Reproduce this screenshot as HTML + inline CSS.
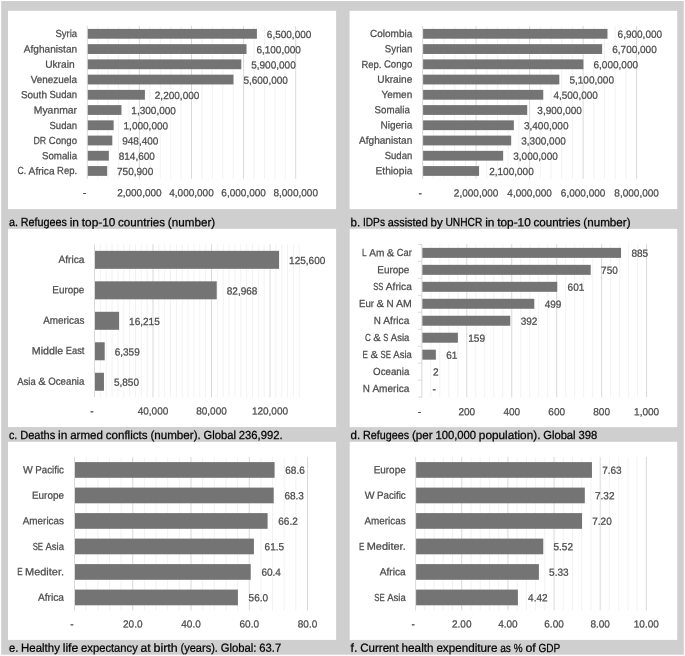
<!DOCTYPE html>
<html><head><meta charset="utf-8"><title>Charts</title>
<style>
html,body{margin:0;padding:0;background:#fff;}
svg{display:block;will-change:transform;}
text{font-family:"Liberation Sans",sans-serif;stroke-width:0.25px;paint-order:stroke;}
</style></head><body>
<svg width="685" height="656" viewBox="0 0 685 656">
<rect x="0.00" y="0.00" width="685.00" height="656.00" fill="#ffffff"/>
<rect x="1.15" y="1.00" width="682.65" height="653.70" fill="#cfcfcf"/>
<rect x="8.00" y="10.80" width="328.10" height="198.30" fill="#ffffff"/>
<line x1="87.30" y1="25.90" x2="87.30" y2="178.90" stroke="#d9d9d9" stroke-width="1"/>
<line x1="97.72" y1="25.90" x2="97.72" y2="178.90" stroke="#f2f2f2" stroke-width="1"/>
<line x1="108.14" y1="25.90" x2="108.14" y2="178.90" stroke="#f2f2f2" stroke-width="1"/>
<line x1="118.56" y1="25.90" x2="118.56" y2="178.90" stroke="#f2f2f2" stroke-width="1"/>
<line x1="128.98" y1="25.90" x2="128.98" y2="178.90" stroke="#f2f2f2" stroke-width="1"/>
<line x1="139.40" y1="25.90" x2="139.40" y2="178.90" stroke="#d9d9d9" stroke-width="1"/>
<line x1="149.82" y1="25.90" x2="149.82" y2="178.90" stroke="#f2f2f2" stroke-width="1"/>
<line x1="160.24" y1="25.90" x2="160.24" y2="178.90" stroke="#f2f2f2" stroke-width="1"/>
<line x1="170.66" y1="25.90" x2="170.66" y2="178.90" stroke="#f2f2f2" stroke-width="1"/>
<line x1="181.08" y1="25.90" x2="181.08" y2="178.90" stroke="#f2f2f2" stroke-width="1"/>
<line x1="191.50" y1="25.90" x2="191.50" y2="178.90" stroke="#d9d9d9" stroke-width="1"/>
<line x1="201.92" y1="25.90" x2="201.92" y2="178.90" stroke="#f2f2f2" stroke-width="1"/>
<line x1="212.34" y1="25.90" x2="212.34" y2="178.90" stroke="#f2f2f2" stroke-width="1"/>
<line x1="222.76" y1="25.90" x2="222.76" y2="178.90" stroke="#f2f2f2" stroke-width="1"/>
<line x1="233.18" y1="25.90" x2="233.18" y2="178.90" stroke="#f2f2f2" stroke-width="1"/>
<line x1="243.60" y1="25.90" x2="243.60" y2="178.90" stroke="#d9d9d9" stroke-width="1"/>
<line x1="254.02" y1="25.90" x2="254.02" y2="178.90" stroke="#f2f2f2" stroke-width="1"/>
<line x1="264.44" y1="25.90" x2="264.44" y2="178.90" stroke="#f2f2f2" stroke-width="1"/>
<line x1="274.86" y1="25.90" x2="274.86" y2="178.90" stroke="#f2f2f2" stroke-width="1"/>
<line x1="285.28" y1="25.90" x2="285.28" y2="178.90" stroke="#f2f2f2" stroke-width="1"/>
<line x1="295.70" y1="25.90" x2="295.70" y2="178.90" stroke="#d9d9d9" stroke-width="1"/>
<rect x="87.80" y="28.92" width="169.12" height="9.80" fill="#747474"/>
<text x="55.44" y="37.32" font-size="10.3" fill="#4a4a4a" stroke="#4a4a4a" textLength="21.66" lengthAdjust="spacingAndGlyphs" transform="rotate(0.03 55.44 37.32)">Syria</text>
<text x="266.82" y="37.92" font-size="10.3" fill="#4a4a4a" stroke="#4a4a4a" textLength="44.54" lengthAdjust="spacingAndGlyphs" transform="rotate(0.03 266.82 37.92)">6,500,000</text>
<rect x="87.80" y="44.16" width="158.71" height="9.80" fill="#747474"/>
<text x="23.83" y="52.56" font-size="10.3" fill="#4a4a4a" stroke="#4a4a4a" textLength="53.27" lengthAdjust="spacingAndGlyphs" transform="rotate(0.03 23.83 52.56)">Afghanistan</text>
<text x="256.40" y="53.16" font-size="10.3" fill="#4a4a4a" stroke="#4a4a4a" textLength="44.54" lengthAdjust="spacingAndGlyphs" transform="rotate(0.03 256.40 53.16)">6,100,000</text>
<rect x="87.80" y="59.40" width="153.50" height="9.80" fill="#747474"/>
<text x="45.14" y="67.80" font-size="10.3" fill="#4a4a4a" stroke="#4a4a4a" textLength="29.47" lengthAdjust="spacingAndGlyphs" transform="rotate(0.03 45.14 67.80)">Ukrain</text>
<text x="251.19" y="68.40" font-size="10.3" fill="#4a4a4a" stroke="#4a4a4a" textLength="44.54" lengthAdjust="spacingAndGlyphs" transform="rotate(0.03 251.19 68.40)">5,900,000</text>
<rect x="87.80" y="74.64" width="145.68" height="9.80" fill="#747474"/>
<text x="30.75" y="83.04" font-size="10.3" fill="#4a4a4a" stroke="#4a4a4a" textLength="46.35" lengthAdjust="spacingAndGlyphs" transform="rotate(0.03 30.75 83.04)">Venezuela</text>
<text x="243.38" y="83.64" font-size="10.3" fill="#4a4a4a" stroke="#4a4a4a" textLength="44.54" lengthAdjust="spacingAndGlyphs" transform="rotate(0.03 243.38 83.64)">5,600,000</text>
<rect x="87.80" y="89.88" width="57.11" height="9.80" fill="#747474"/>
<text x="20.89" y="98.28" font-size="10.3" fill="#4a4a4a" stroke="#4a4a4a" textLength="26.08" lengthAdjust="spacingAndGlyphs" transform="rotate(0.03 20.89 98.28)">South</text>
<text x="49.46" y="98.28" font-size="10.3" fill="#4a4a4a" stroke="#4a4a4a" textLength="27.64" lengthAdjust="spacingAndGlyphs" transform="rotate(0.03 49.46 98.28)">Sudan</text>
<text x="154.81" y="98.88" font-size="10.3" fill="#4a4a4a" stroke="#4a4a4a" textLength="44.54" lengthAdjust="spacingAndGlyphs" transform="rotate(0.03 154.81 98.88)">2,200,000</text>
<rect x="87.80" y="105.12" width="33.66" height="9.80" fill="#747474"/>
<text x="33.77" y="113.52" font-size="10.3" fill="#4a4a4a" stroke="#4a4a4a" textLength="43.33" lengthAdjust="spacingAndGlyphs" transform="rotate(0.03 33.77 113.52)">Myanmar</text>
<text x="131.36" y="114.12" font-size="10.3" fill="#4a4a4a" stroke="#4a4a4a" textLength="44.54" lengthAdjust="spacingAndGlyphs" transform="rotate(0.03 131.36 114.12)">1,300,000</text>
<rect x="87.80" y="120.36" width="25.85" height="9.80" fill="#747474"/>
<text x="49.46" y="128.76" font-size="10.3" fill="#4a4a4a" stroke="#4a4a4a" textLength="27.64" lengthAdjust="spacingAndGlyphs" transform="rotate(0.03 49.46 128.76)">Sudan</text>
<text x="123.55" y="129.36" font-size="10.3" fill="#4a4a4a" stroke="#4a4a4a" textLength="44.54" lengthAdjust="spacingAndGlyphs" transform="rotate(0.03 123.55 129.36)">1,000,000</text>
<rect x="87.80" y="135.60" width="24.51" height="9.80" fill="#747474"/>
<text x="33.46" y="144.00" font-size="10.3" fill="#4a4a4a" stroke="#4a4a4a" textLength="12.74" lengthAdjust="spacingAndGlyphs" transform="rotate(0.03 33.46 144.00)">DR</text>
<text x="48.69" y="144.00" font-size="10.3" fill="#4a4a4a" stroke="#4a4a4a" textLength="28.41" lengthAdjust="spacingAndGlyphs" transform="rotate(0.03 48.69 144.00)">Congo</text>
<text x="122.21" y="144.60" font-size="10.3" fill="#4a4a4a" stroke="#4a4a4a" textLength="36.21" lengthAdjust="spacingAndGlyphs" transform="rotate(0.03 122.21 144.60)">948,400</text>
<rect x="87.80" y="150.84" width="21.02" height="9.80" fill="#747474"/>
<text x="41.89" y="159.24" font-size="10.3" fill="#4a4a4a" stroke="#4a4a4a" textLength="35.21" lengthAdjust="spacingAndGlyphs" transform="rotate(0.03 41.89 159.24)">Somalia</text>
<text x="118.72" y="159.84" font-size="10.3" fill="#4a4a4a" stroke="#4a4a4a" textLength="36.21" lengthAdjust="spacingAndGlyphs" transform="rotate(0.03 118.72 159.84)">814,600</text>
<rect x="87.80" y="166.08" width="19.36" height="9.80" fill="#747474"/>
<text x="17.49" y="174.48" font-size="10.3" fill="#4a4a4a" stroke="#4a4a4a" textLength="8.63" lengthAdjust="spacingAndGlyphs" transform="rotate(0.03 17.49 174.48)">C.</text>
<text x="28.61" y="174.48" font-size="10.3" fill="#4a4a4a" stroke="#4a4a4a" textLength="26.00" lengthAdjust="spacingAndGlyphs" transform="rotate(0.03 28.61 174.48)">Africa</text>
<text x="57.10" y="174.48" font-size="10.3" fill="#4a4a4a" stroke="#4a4a4a" textLength="20.00" lengthAdjust="spacingAndGlyphs" transform="rotate(0.03 57.10 174.48)">Rep.</text>
<text x="117.06" y="175.08" font-size="10.3" fill="#4a4a4a" stroke="#4a4a4a" textLength="36.21" lengthAdjust="spacingAndGlyphs" transform="rotate(0.03 117.06 175.08)">750,900</text>
<text x="83.12" y="196.25" font-size="10.3" fill="#4a4a4a" stroke="#4a4a4a" textLength="3.37" lengthAdjust="spacingAndGlyphs" transform="rotate(0.03 83.12 196.25)">-</text>
<text x="117.13" y="196.25" font-size="10.3" fill="#4a4a4a" stroke="#4a4a4a" textLength="44.54" lengthAdjust="spacingAndGlyphs" transform="rotate(0.03 117.13 196.25)">2,000,000</text>
<text x="169.23" y="196.25" font-size="10.3" fill="#4a4a4a" stroke="#4a4a4a" textLength="44.54" lengthAdjust="spacingAndGlyphs" transform="rotate(0.03 169.23 196.25)">4,000,000</text>
<text x="221.33" y="196.25" font-size="10.3" fill="#4a4a4a" stroke="#4a4a4a" textLength="44.54" lengthAdjust="spacingAndGlyphs" transform="rotate(0.03 221.33 196.25)">6,000,000</text>
<text x="273.43" y="196.25" font-size="10.3" fill="#4a4a4a" stroke="#4a4a4a" textLength="44.54" lengthAdjust="spacingAndGlyphs" transform="rotate(0.03 273.43 196.25)">8,000,000</text>
<rect x="349.60" y="10.80" width="327.60" height="198.30" fill="#ffffff"/>
<line x1="422.60" y1="25.90" x2="422.60" y2="178.90" stroke="#d9d9d9" stroke-width="1"/>
<line x1="433.30" y1="25.90" x2="433.30" y2="178.90" stroke="#f2f2f2" stroke-width="1"/>
<line x1="444.00" y1="25.90" x2="444.00" y2="178.90" stroke="#f2f2f2" stroke-width="1"/>
<line x1="454.70" y1="25.90" x2="454.70" y2="178.90" stroke="#f2f2f2" stroke-width="1"/>
<line x1="465.40" y1="25.90" x2="465.40" y2="178.90" stroke="#f2f2f2" stroke-width="1"/>
<line x1="476.10" y1="25.90" x2="476.10" y2="178.90" stroke="#d9d9d9" stroke-width="1"/>
<line x1="486.80" y1="25.90" x2="486.80" y2="178.90" stroke="#f2f2f2" stroke-width="1"/>
<line x1="497.50" y1="25.90" x2="497.50" y2="178.90" stroke="#f2f2f2" stroke-width="1"/>
<line x1="508.20" y1="25.90" x2="508.20" y2="178.90" stroke="#f2f2f2" stroke-width="1"/>
<line x1="518.90" y1="25.90" x2="518.90" y2="178.90" stroke="#f2f2f2" stroke-width="1"/>
<line x1="529.60" y1="25.90" x2="529.60" y2="178.90" stroke="#d9d9d9" stroke-width="1"/>
<line x1="540.30" y1="25.90" x2="540.30" y2="178.90" stroke="#f2f2f2" stroke-width="1"/>
<line x1="551.00" y1="25.90" x2="551.00" y2="178.90" stroke="#f2f2f2" stroke-width="1"/>
<line x1="561.70" y1="25.90" x2="561.70" y2="178.90" stroke="#f2f2f2" stroke-width="1"/>
<line x1="572.40" y1="25.90" x2="572.40" y2="178.90" stroke="#f2f2f2" stroke-width="1"/>
<line x1="583.10" y1="25.90" x2="583.10" y2="178.90" stroke="#d9d9d9" stroke-width="1"/>
<line x1="593.80" y1="25.90" x2="593.80" y2="178.90" stroke="#f2f2f2" stroke-width="1"/>
<line x1="604.50" y1="25.90" x2="604.50" y2="178.90" stroke="#f2f2f2" stroke-width="1"/>
<line x1="615.20" y1="25.90" x2="615.20" y2="178.90" stroke="#f2f2f2" stroke-width="1"/>
<line x1="625.90" y1="25.90" x2="625.90" y2="178.90" stroke="#f2f2f2" stroke-width="1"/>
<line x1="636.60" y1="25.90" x2="636.60" y2="178.90" stroke="#d9d9d9" stroke-width="1"/>
<rect x="423.10" y="28.92" width="184.38" height="9.80" fill="#747474"/>
<text x="369.97" y="37.12" font-size="10.3" fill="#4a4a4a" stroke="#4a4a4a" textLength="42.33" lengthAdjust="spacingAndGlyphs" transform="rotate(0.03 369.97 37.12)">Colombia</text>
<text x="617.57" y="37.77" font-size="10.3" fill="#4a4a4a" stroke="#4a4a4a" textLength="44.54" lengthAdjust="spacingAndGlyphs" transform="rotate(0.03 617.57 37.77)">6,900,000</text>
<rect x="423.10" y="44.16" width="179.03" height="9.80" fill="#747474"/>
<text x="384.87" y="52.36" font-size="10.3" fill="#4a4a4a" stroke="#4a4a4a" textLength="27.43" lengthAdjust="spacingAndGlyphs" transform="rotate(0.03 384.87 52.36)">Syrian</text>
<text x="612.23" y="53.01" font-size="10.3" fill="#4a4a4a" stroke="#4a4a4a" textLength="44.54" lengthAdjust="spacingAndGlyphs" transform="rotate(0.03 612.23 53.01)">6,700,000</text>
<rect x="423.10" y="59.40" width="160.30" height="9.80" fill="#747474"/>
<text x="361.40" y="67.60" font-size="10.3" fill="#4a4a4a" stroke="#4a4a4a" textLength="20.00" lengthAdjust="spacingAndGlyphs" transform="rotate(0.03 361.40 67.60)">Rep.</text>
<text x="383.89" y="67.60" font-size="10.3" fill="#4a4a4a" stroke="#4a4a4a" textLength="28.41" lengthAdjust="spacingAndGlyphs" transform="rotate(0.03 383.89 67.60)">Congo</text>
<text x="593.50" y="68.25" font-size="10.3" fill="#4a4a4a" stroke="#4a4a4a" textLength="44.54" lengthAdjust="spacingAndGlyphs" transform="rotate(0.03 593.50 68.25)">6,000,000</text>
<rect x="423.10" y="74.64" width="136.23" height="9.80" fill="#747474"/>
<text x="377.35" y="82.84" font-size="10.3" fill="#4a4a4a" stroke="#4a4a4a" textLength="34.95" lengthAdjust="spacingAndGlyphs" transform="rotate(0.03 377.35 82.84)">Ukraine</text>
<text x="569.43" y="83.49" font-size="10.3" fill="#4a4a4a" stroke="#4a4a4a" textLength="44.54" lengthAdjust="spacingAndGlyphs" transform="rotate(0.03 569.43 83.49)">5,100,000</text>
<rect x="423.10" y="89.88" width="120.17" height="9.80" fill="#747474"/>
<text x="381.42" y="98.08" font-size="10.3" fill="#4a4a4a" stroke="#4a4a4a" textLength="30.88" lengthAdjust="spacingAndGlyphs" transform="rotate(0.03 381.42 98.08)">Yemen</text>
<text x="553.38" y="98.73" font-size="10.3" fill="#4a4a4a" stroke="#4a4a4a" textLength="44.54" lengthAdjust="spacingAndGlyphs" transform="rotate(0.03 553.38 98.73)">4,500,000</text>
<rect x="423.10" y="105.12" width="104.12" height="9.80" fill="#747474"/>
<text x="374.60" y="113.32" font-size="10.3" fill="#4a4a4a" stroke="#4a4a4a" textLength="35.21" lengthAdjust="spacingAndGlyphs" transform="rotate(0.03 374.60 113.32)">Somalia</text>
<text x="537.33" y="113.97" font-size="10.3" fill="#4a4a4a" stroke="#4a4a4a" textLength="44.54" lengthAdjust="spacingAndGlyphs" transform="rotate(0.03 537.33 113.97)">3,900,000</text>
<rect x="423.10" y="120.36" width="90.75" height="9.80" fill="#747474"/>
<text x="380.39" y="128.56" font-size="10.3" fill="#4a4a4a" stroke="#4a4a4a" textLength="31.91" lengthAdjust="spacingAndGlyphs" transform="rotate(0.03 380.39 128.56)">Nigeria</text>
<text x="523.95" y="129.21" font-size="10.3" fill="#4a4a4a" stroke="#4a4a4a" textLength="44.54" lengthAdjust="spacingAndGlyphs" transform="rotate(0.03 523.95 129.21)">3,400,000</text>
<rect x="423.10" y="135.60" width="88.08" height="9.80" fill="#747474"/>
<text x="359.03" y="143.80" font-size="10.3" fill="#4a4a4a" stroke="#4a4a4a" textLength="53.27" lengthAdjust="spacingAndGlyphs" transform="rotate(0.03 359.03 143.80)">Afghanistan</text>
<text x="521.27" y="144.45" font-size="10.3" fill="#4a4a4a" stroke="#4a4a4a" textLength="44.54" lengthAdjust="spacingAndGlyphs" transform="rotate(0.03 521.27 144.45)">3,300,000</text>
<rect x="423.10" y="150.84" width="80.05" height="9.80" fill="#747474"/>
<text x="384.66" y="159.04" font-size="10.3" fill="#4a4a4a" stroke="#4a4a4a" textLength="27.64" lengthAdjust="spacingAndGlyphs" transform="rotate(0.03 384.66 159.04)">Sudan</text>
<text x="513.25" y="159.69" font-size="10.3" fill="#4a4a4a" stroke="#4a4a4a" textLength="44.54" lengthAdjust="spacingAndGlyphs" transform="rotate(0.03 513.25 159.69)">3,000,000</text>
<rect x="423.10" y="166.08" width="55.97" height="9.80" fill="#747474"/>
<text x="375.59" y="174.28" font-size="10.3" fill="#4a4a4a" stroke="#4a4a4a" textLength="36.71" lengthAdjust="spacingAndGlyphs" transform="rotate(0.03 375.59 174.28)">Ethiopia</text>
<text x="489.18" y="174.93" font-size="10.3" fill="#4a4a4a" stroke="#4a4a4a" textLength="44.54" lengthAdjust="spacingAndGlyphs" transform="rotate(0.03 489.18 174.93)">2,100,000</text>
<text x="418.42" y="196.40" font-size="10.3" fill="#4a4a4a" stroke="#4a4a4a" textLength="3.37" lengthAdjust="spacingAndGlyphs" transform="rotate(0.03 418.42 196.40)">-</text>
<text x="453.83" y="196.40" font-size="10.3" fill="#4a4a4a" stroke="#4a4a4a" textLength="44.54" lengthAdjust="spacingAndGlyphs" transform="rotate(0.03 453.83 196.40)">2,000,000</text>
<text x="507.33" y="196.40" font-size="10.3" fill="#4a4a4a" stroke="#4a4a4a" textLength="44.54" lengthAdjust="spacingAndGlyphs" transform="rotate(0.03 507.33 196.40)">4,000,000</text>
<text x="560.83" y="196.40" font-size="10.3" fill="#4a4a4a" stroke="#4a4a4a" textLength="44.54" lengthAdjust="spacingAndGlyphs" transform="rotate(0.03 560.83 196.40)">6,000,000</text>
<text x="614.33" y="196.40" font-size="10.3" fill="#4a4a4a" stroke="#4a4a4a" textLength="44.54" lengthAdjust="spacingAndGlyphs" transform="rotate(0.03 614.33 196.40)">8,000,000</text>
<rect x="8.00" y="228.85" width="328.10" height="198.20" fill="#ffffff"/>
<line x1="94.50" y1="244.30" x2="94.50" y2="397.30" stroke="#d9d9d9" stroke-width="1"/>
<line x1="100.35" y1="244.30" x2="100.35" y2="397.30" stroke="#f2f2f2" stroke-width="1"/>
<line x1="106.20" y1="244.30" x2="106.20" y2="397.30" stroke="#f2f2f2" stroke-width="1"/>
<line x1="112.05" y1="244.30" x2="112.05" y2="397.30" stroke="#f2f2f2" stroke-width="1"/>
<line x1="117.90" y1="244.30" x2="117.90" y2="397.30" stroke="#f2f2f2" stroke-width="1"/>
<line x1="123.75" y1="244.30" x2="123.75" y2="397.30" stroke="#f2f2f2" stroke-width="1"/>
<line x1="129.60" y1="244.30" x2="129.60" y2="397.30" stroke="#f2f2f2" stroke-width="1"/>
<line x1="135.45" y1="244.30" x2="135.45" y2="397.30" stroke="#f2f2f2" stroke-width="1"/>
<line x1="141.30" y1="244.30" x2="141.30" y2="397.30" stroke="#f2f2f2" stroke-width="1"/>
<line x1="147.15" y1="244.30" x2="147.15" y2="397.30" stroke="#f2f2f2" stroke-width="1"/>
<line x1="153.00" y1="244.30" x2="153.00" y2="397.30" stroke="#d9d9d9" stroke-width="1"/>
<line x1="158.85" y1="244.30" x2="158.85" y2="397.30" stroke="#f2f2f2" stroke-width="1"/>
<line x1="164.70" y1="244.30" x2="164.70" y2="397.30" stroke="#f2f2f2" stroke-width="1"/>
<line x1="170.55" y1="244.30" x2="170.55" y2="397.30" stroke="#f2f2f2" stroke-width="1"/>
<line x1="176.40" y1="244.30" x2="176.40" y2="397.30" stroke="#f2f2f2" stroke-width="1"/>
<line x1="182.25" y1="244.30" x2="182.25" y2="397.30" stroke="#f2f2f2" stroke-width="1"/>
<line x1="188.10" y1="244.30" x2="188.10" y2="397.30" stroke="#f2f2f2" stroke-width="1"/>
<line x1="193.95" y1="244.30" x2="193.95" y2="397.30" stroke="#f2f2f2" stroke-width="1"/>
<line x1="199.80" y1="244.30" x2="199.80" y2="397.30" stroke="#f2f2f2" stroke-width="1"/>
<line x1="205.65" y1="244.30" x2="205.65" y2="397.30" stroke="#f2f2f2" stroke-width="1"/>
<line x1="211.50" y1="244.30" x2="211.50" y2="397.30" stroke="#d9d9d9" stroke-width="1"/>
<line x1="217.35" y1="244.30" x2="217.35" y2="397.30" stroke="#f2f2f2" stroke-width="1"/>
<line x1="223.20" y1="244.30" x2="223.20" y2="397.30" stroke="#f2f2f2" stroke-width="1"/>
<line x1="229.05" y1="244.30" x2="229.05" y2="397.30" stroke="#f2f2f2" stroke-width="1"/>
<line x1="234.90" y1="244.30" x2="234.90" y2="397.30" stroke="#f2f2f2" stroke-width="1"/>
<line x1="240.75" y1="244.30" x2="240.75" y2="397.30" stroke="#f2f2f2" stroke-width="1"/>
<line x1="246.60" y1="244.30" x2="246.60" y2="397.30" stroke="#f2f2f2" stroke-width="1"/>
<line x1="252.45" y1="244.30" x2="252.45" y2="397.30" stroke="#f2f2f2" stroke-width="1"/>
<line x1="258.30" y1="244.30" x2="258.30" y2="397.30" stroke="#f2f2f2" stroke-width="1"/>
<line x1="264.15" y1="244.30" x2="264.15" y2="397.30" stroke="#f2f2f2" stroke-width="1"/>
<line x1="270.00" y1="244.30" x2="270.00" y2="397.30" stroke="#d9d9d9" stroke-width="1"/>
<line x1="275.85" y1="244.30" x2="275.85" y2="397.30" stroke="#f2f2f2" stroke-width="1"/>
<line x1="281.70" y1="244.30" x2="281.70" y2="397.30" stroke="#f2f2f2" stroke-width="1"/>
<line x1="287.55" y1="244.30" x2="287.55" y2="397.30" stroke="#f2f2f2" stroke-width="1"/>
<line x1="293.40" y1="244.30" x2="293.40" y2="397.30" stroke="#f2f2f2" stroke-width="1"/>
<line x1="299.25" y1="244.30" x2="299.25" y2="397.30" stroke="#f2f2f2" stroke-width="1"/>
<rect x="95.00" y="250.84" width="184.09" height="18.00" fill="#747474"/>
<text x="58.40" y="262.89" font-size="10.3" fill="#4a4a4a" stroke="#4a4a4a" textLength="26.00" lengthAdjust="spacingAndGlyphs" transform="rotate(0.03 58.40 262.89)">Africa</text>
<text x="289.09" y="263.94" font-size="10.3" fill="#4a4a4a" stroke="#4a4a4a" textLength="36.21" lengthAdjust="spacingAndGlyphs" transform="rotate(0.03 289.09 263.94)">125,600</text>
<rect x="95.00" y="281.32" width="121.74" height="18.00" fill="#747474"/>
<text x="52.37" y="293.37" font-size="10.3" fill="#4a4a4a" stroke="#4a4a4a" textLength="32.03" lengthAdjust="spacingAndGlyphs" transform="rotate(0.03 52.37 293.37)">Europe</text>
<text x="226.74" y="294.42" font-size="10.3" fill="#4a4a4a" stroke="#4a4a4a" textLength="30.64" lengthAdjust="spacingAndGlyphs" transform="rotate(0.03 226.74 294.42)">82,968</text>
<rect x="95.00" y="311.80" width="24.11" height="18.00" fill="#747474"/>
<text x="43.18" y="323.85" font-size="10.3" fill="#4a4a4a" stroke="#4a4a4a" textLength="41.22" lengthAdjust="spacingAndGlyphs" transform="rotate(0.03 43.18 323.85)">Americas</text>
<text x="129.11" y="324.90" font-size="10.3" fill="#4a4a4a" stroke="#4a4a4a" textLength="30.64" lengthAdjust="spacingAndGlyphs" transform="rotate(0.03 129.11 324.90)">16,215</text>
<rect x="95.00" y="342.28" width="9.70" height="18.00" fill="#747474"/>
<text x="31.82" y="354.33" font-size="10.3" fill="#4a4a4a" stroke="#4a4a4a" textLength="31.47" lengthAdjust="spacingAndGlyphs" transform="rotate(0.03 31.82 354.33)">Middle</text>
<text x="65.78" y="354.33" font-size="10.3" fill="#4a4a4a" stroke="#4a4a4a" textLength="18.62" lengthAdjust="spacingAndGlyphs" transform="rotate(0.03 65.78 354.33)">East</text>
<text x="114.70" y="355.38" font-size="10.3" fill="#4a4a4a" stroke="#4a4a4a" textLength="25.06" lengthAdjust="spacingAndGlyphs" transform="rotate(0.03 114.70 355.38)">6,359</text>
<rect x="95.00" y="372.76" width="8.96" height="18.00" fill="#747474"/>
<text x="17.22" y="384.81" font-size="10.3" fill="#4a4a4a" stroke="#4a4a4a" textLength="18.46" lengthAdjust="spacingAndGlyphs" transform="rotate(0.03 17.22 384.81)">Asia</text>
<text x="38.17" y="384.81" font-size="10.3" fill="#4a4a4a" stroke="#4a4a4a" textLength="7.50" lengthAdjust="spacingAndGlyphs" transform="rotate(0.03 38.17 384.81)">&amp;</text>
<text x="48.15" y="384.81" font-size="10.3" fill="#4a4a4a" stroke="#4a4a4a" textLength="36.24" lengthAdjust="spacingAndGlyphs" transform="rotate(0.03 48.15 384.81)">Oceania</text>
<text x="113.96" y="385.86" font-size="10.3" fill="#4a4a4a" stroke="#4a4a4a" textLength="25.06" lengthAdjust="spacingAndGlyphs" transform="rotate(0.03 113.96 385.86)">5,850</text>
<text x="90.32" y="414.55" font-size="10.3" fill="#4a4a4a" stroke="#4a4a4a" textLength="3.37" lengthAdjust="spacingAndGlyphs" transform="rotate(0.03 90.32 414.55)">-</text>
<text x="137.68" y="414.55" font-size="10.3" fill="#4a4a4a" stroke="#4a4a4a" textLength="30.64" lengthAdjust="spacingAndGlyphs" transform="rotate(0.03 137.68 414.55)">40,000</text>
<text x="196.18" y="414.55" font-size="10.3" fill="#4a4a4a" stroke="#4a4a4a" textLength="30.64" lengthAdjust="spacingAndGlyphs" transform="rotate(0.03 196.18 414.55)">80,000</text>
<text x="251.89" y="414.55" font-size="10.3" fill="#4a4a4a" stroke="#4a4a4a" textLength="36.21" lengthAdjust="spacingAndGlyphs" transform="rotate(0.03 251.89 414.55)">120,000</text>
<rect x="349.70" y="228.85" width="327.50" height="198.30" fill="#ffffff"/>
<line x1="421.85" y1="244.10" x2="421.85" y2="397.40" stroke="#d9d9d9" stroke-width="1"/>
<line x1="430.84" y1="244.10" x2="430.84" y2="397.40" stroke="#f2f2f2" stroke-width="1"/>
<line x1="439.83" y1="244.10" x2="439.83" y2="397.40" stroke="#f2f2f2" stroke-width="1"/>
<line x1="448.82" y1="244.10" x2="448.82" y2="397.40" stroke="#f2f2f2" stroke-width="1"/>
<line x1="457.81" y1="244.10" x2="457.81" y2="397.40" stroke="#f2f2f2" stroke-width="1"/>
<line x1="466.80" y1="244.10" x2="466.80" y2="397.40" stroke="#d9d9d9" stroke-width="1"/>
<line x1="475.79" y1="244.10" x2="475.79" y2="397.40" stroke="#f2f2f2" stroke-width="1"/>
<line x1="484.78" y1="244.10" x2="484.78" y2="397.40" stroke="#f2f2f2" stroke-width="1"/>
<line x1="493.77" y1="244.10" x2="493.77" y2="397.40" stroke="#f2f2f2" stroke-width="1"/>
<line x1="502.76" y1="244.10" x2="502.76" y2="397.40" stroke="#f2f2f2" stroke-width="1"/>
<line x1="511.75" y1="244.10" x2="511.75" y2="397.40" stroke="#d9d9d9" stroke-width="1"/>
<line x1="520.74" y1="244.10" x2="520.74" y2="397.40" stroke="#f2f2f2" stroke-width="1"/>
<line x1="529.73" y1="244.10" x2="529.73" y2="397.40" stroke="#f2f2f2" stroke-width="1"/>
<line x1="538.72" y1="244.10" x2="538.72" y2="397.40" stroke="#f2f2f2" stroke-width="1"/>
<line x1="547.71" y1="244.10" x2="547.71" y2="397.40" stroke="#f2f2f2" stroke-width="1"/>
<line x1="556.70" y1="244.10" x2="556.70" y2="397.40" stroke="#d9d9d9" stroke-width="1"/>
<line x1="565.69" y1="244.10" x2="565.69" y2="397.40" stroke="#f2f2f2" stroke-width="1"/>
<line x1="574.68" y1="244.10" x2="574.68" y2="397.40" stroke="#f2f2f2" stroke-width="1"/>
<line x1="583.67" y1="244.10" x2="583.67" y2="397.40" stroke="#f2f2f2" stroke-width="1"/>
<line x1="592.66" y1="244.10" x2="592.66" y2="397.40" stroke="#f2f2f2" stroke-width="1"/>
<line x1="601.65" y1="244.10" x2="601.65" y2="397.40" stroke="#d9d9d9" stroke-width="1"/>
<line x1="610.64" y1="244.10" x2="610.64" y2="397.40" stroke="#f2f2f2" stroke-width="1"/>
<line x1="619.63" y1="244.10" x2="619.63" y2="397.40" stroke="#f2f2f2" stroke-width="1"/>
<line x1="628.62" y1="244.10" x2="628.62" y2="397.40" stroke="#f2f2f2" stroke-width="1"/>
<line x1="637.61" y1="244.10" x2="637.61" y2="397.40" stroke="#f2f2f2" stroke-width="1"/>
<line x1="646.60" y1="244.10" x2="646.60" y2="397.40" stroke="#d9d9d9" stroke-width="1"/>
<line x1="417.85" y1="244.40" x2="421.85" y2="244.40" stroke="#d9d9d9" stroke-width="1"/>
<line x1="417.85" y1="261.37" x2="421.85" y2="261.37" stroke="#d9d9d9" stroke-width="1"/>
<line x1="417.85" y1="278.33" x2="421.85" y2="278.33" stroke="#d9d9d9" stroke-width="1"/>
<line x1="417.85" y1="295.30" x2="421.85" y2="295.30" stroke="#d9d9d9" stroke-width="1"/>
<line x1="417.85" y1="312.27" x2="421.85" y2="312.27" stroke="#d9d9d9" stroke-width="1"/>
<line x1="417.85" y1="329.23" x2="421.85" y2="329.23" stroke="#d9d9d9" stroke-width="1"/>
<line x1="417.85" y1="346.20" x2="421.85" y2="346.20" stroke="#d9d9d9" stroke-width="1"/>
<line x1="417.85" y1="363.17" x2="421.85" y2="363.17" stroke="#d9d9d9" stroke-width="1"/>
<line x1="417.85" y1="380.13" x2="421.85" y2="380.13" stroke="#d9d9d9" stroke-width="1"/>
<line x1="417.85" y1="397.10" x2="421.85" y2="397.10" stroke="#d9d9d9" stroke-width="1"/>
<rect x="422.35" y="247.88" width="198.70" height="10.00" fill="#747474"/>
<text x="362.09" y="256.18" font-size="10.3" fill="#4a4a4a" stroke="#4a4a4a" textLength="4.62" lengthAdjust="spacingAndGlyphs" transform="rotate(0.03 362.09 256.18)">L</text>
<text x="369.20" y="256.18" font-size="10.3" fill="#4a4a4a" stroke="#4a4a4a" textLength="15.16" lengthAdjust="spacingAndGlyphs" transform="rotate(0.03 369.20 256.18)">Am</text>
<text x="386.84" y="256.18" font-size="10.3" fill="#4a4a4a" stroke="#4a4a4a" textLength="7.50" lengthAdjust="spacingAndGlyphs" transform="rotate(0.03 386.84 256.18)">&amp;</text>
<text x="396.83" y="256.18" font-size="10.3" fill="#4a4a4a" stroke="#4a4a4a" textLength="14.97" lengthAdjust="spacingAndGlyphs" transform="rotate(0.03 396.83 256.18)">Car</text>
<text x="631.45" y="256.83" font-size="10.3" fill="#4a4a4a" stroke="#4a4a4a" textLength="16.73" lengthAdjust="spacingAndGlyphs" transform="rotate(0.03 631.45 256.83)">885</text>
<rect x="422.35" y="264.85" width="168.36" height="10.00" fill="#747474"/>
<text x="377.28" y="273.15" font-size="10.3" fill="#4a4a4a" stroke="#4a4a4a" textLength="32.03" lengthAdjust="spacingAndGlyphs" transform="rotate(0.03 377.28 273.15)">Europe</text>
<text x="601.11" y="273.80" font-size="10.3" fill="#4a4a4a" stroke="#4a4a4a" textLength="16.73" lengthAdjust="spacingAndGlyphs" transform="rotate(0.03 601.11 273.80)">750</text>
<rect x="422.35" y="281.82" width="134.87" height="10.00" fill="#747474"/>
<text x="373.21" y="290.12" font-size="10.3" fill="#4a4a4a" stroke="#4a4a4a" textLength="10.10" lengthAdjust="spacingAndGlyphs" transform="rotate(0.03 373.21 290.12)">SS</text>
<text x="385.80" y="290.12" font-size="10.3" fill="#4a4a4a" stroke="#4a4a4a" textLength="26.00" lengthAdjust="spacingAndGlyphs" transform="rotate(0.03 385.80 290.12)">Africa</text>
<text x="567.62" y="290.77" font-size="10.3" fill="#4a4a4a" stroke="#4a4a4a" textLength="16.73" lengthAdjust="spacingAndGlyphs" transform="rotate(0.03 567.62 290.77)">601</text>
<rect x="422.35" y="298.78" width="111.95" height="10.00" fill="#747474"/>
<text x="358.98" y="307.08" font-size="10.3" fill="#4a4a4a" stroke="#4a4a4a" textLength="14.98" lengthAdjust="spacingAndGlyphs" transform="rotate(0.03 358.98 307.08)">Eur</text>
<text x="376.45" y="307.08" font-size="10.3" fill="#4a4a4a" stroke="#4a4a4a" textLength="7.50" lengthAdjust="spacingAndGlyphs" transform="rotate(0.03 376.45 307.08)">&amp;</text>
<text x="386.43" y="307.08" font-size="10.3" fill="#4a4a4a" stroke="#4a4a4a" textLength="7.11" lengthAdjust="spacingAndGlyphs" transform="rotate(0.03 386.43 307.08)">N</text>
<text x="396.03" y="307.08" font-size="10.3" fill="#4a4a4a" stroke="#4a4a4a" textLength="15.77" lengthAdjust="spacingAndGlyphs" transform="rotate(0.03 396.03 307.08)">AM</text>
<text x="544.70" y="307.73" font-size="10.3" fill="#4a4a4a" stroke="#4a4a4a" textLength="16.73" lengthAdjust="spacingAndGlyphs" transform="rotate(0.03 544.70 307.73)">499</text>
<rect x="422.35" y="315.75" width="87.90" height="10.00" fill="#747474"/>
<text x="373.72" y="324.05" font-size="10.3" fill="#4a4a4a" stroke="#4a4a4a" textLength="7.11" lengthAdjust="spacingAndGlyphs" transform="rotate(0.03 373.72 324.05)">N</text>
<text x="383.31" y="324.05" font-size="10.3" fill="#4a4a4a" stroke="#4a4a4a" textLength="26.00" lengthAdjust="spacingAndGlyphs" transform="rotate(0.03 383.31 324.05)">Africa</text>
<text x="520.65" y="324.70" font-size="10.3" fill="#4a4a4a" stroke="#4a4a4a" textLength="16.73" lengthAdjust="spacingAndGlyphs" transform="rotate(0.03 520.65 324.70)">392</text>
<rect x="422.35" y="332.72" width="35.54" height="10.00" fill="#747474"/>
<text x="364.98" y="341.02" font-size="10.3" fill="#4a4a4a" stroke="#4a4a4a" textLength="5.86" lengthAdjust="spacingAndGlyphs" transform="rotate(0.03 364.98 341.02)">C</text>
<text x="373.33" y="341.02" font-size="10.3" fill="#4a4a4a" stroke="#4a4a4a" textLength="7.50" lengthAdjust="spacingAndGlyphs" transform="rotate(0.03 373.33 341.02)">&amp;</text>
<text x="383.32" y="341.02" font-size="10.3" fill="#4a4a4a" stroke="#4a4a4a" textLength="5.05" lengthAdjust="spacingAndGlyphs" transform="rotate(0.03 383.32 341.02)">S</text>
<text x="390.86" y="341.02" font-size="10.3" fill="#4a4a4a" stroke="#4a4a4a" textLength="18.46" lengthAdjust="spacingAndGlyphs" transform="rotate(0.03 390.86 341.02)">Asia</text>
<text x="468.29" y="341.67" font-size="10.3" fill="#4a4a4a" stroke="#4a4a4a" textLength="16.73" lengthAdjust="spacingAndGlyphs" transform="rotate(0.03 468.29 341.67)">159</text>
<rect x="422.35" y="349.68" width="13.51" height="10.00" fill="#747474"/>
<text x="362.60" y="357.98" font-size="10.3" fill="#4a4a4a" stroke="#4a4a4a" textLength="5.37" lengthAdjust="spacingAndGlyphs" transform="rotate(0.03 362.60 357.98)">E</text>
<text x="370.45" y="357.98" font-size="10.3" fill="#4a4a4a" stroke="#4a4a4a" textLength="7.50" lengthAdjust="spacingAndGlyphs" transform="rotate(0.03 370.45 357.98)">&amp;</text>
<text x="380.44" y="357.98" font-size="10.3" fill="#4a4a4a" stroke="#4a4a4a" textLength="10.42" lengthAdjust="spacingAndGlyphs" transform="rotate(0.03 380.44 357.98)">SE</text>
<text x="393.34" y="357.98" font-size="10.3" fill="#4a4a4a" stroke="#4a4a4a" textLength="18.46" lengthAdjust="spacingAndGlyphs" transform="rotate(0.03 393.34 357.98)">Asia</text>
<text x="446.26" y="358.63" font-size="10.3" fill="#4a4a4a" stroke="#4a4a4a" textLength="11.15" lengthAdjust="spacingAndGlyphs" transform="rotate(0.03 446.26 358.63)">61</text>
<text x="373.07" y="374.95" font-size="10.3" fill="#4a4a4a" stroke="#4a4a4a" textLength="36.24" lengthAdjust="spacingAndGlyphs" transform="rotate(0.03 373.07 374.95)">Oceania</text>
<text x="433.00" y="375.60" font-size="10.3" fill="#4a4a4a" stroke="#4a4a4a" textLength="5.58" lengthAdjust="spacingAndGlyphs" transform="rotate(0.03 433.00 375.60)">2</text>
<text x="362.81" y="391.92" font-size="10.3" fill="#4a4a4a" stroke="#4a4a4a" textLength="7.11" lengthAdjust="spacingAndGlyphs" transform="rotate(0.03 362.81 391.92)">N</text>
<text x="372.40" y="391.92" font-size="10.3" fill="#4a4a4a" stroke="#4a4a4a" textLength="36.92" lengthAdjust="spacingAndGlyphs" transform="rotate(0.03 372.40 391.92)">America</text>
<text x="432.55" y="392.57" font-size="10.3" fill="#4a4a4a" stroke="#4a4a4a" textLength="3.37" lengthAdjust="spacingAndGlyphs" transform="rotate(0.03 432.55 392.57)">-</text>
<text x="417.67" y="415.25" font-size="10.3" fill="#4a4a4a" stroke="#4a4a4a" textLength="3.37" lengthAdjust="spacingAndGlyphs" transform="rotate(0.03 417.67 415.25)">-</text>
<text x="458.43" y="415.25" font-size="10.3" fill="#4a4a4a" stroke="#4a4a4a" textLength="16.73" lengthAdjust="spacingAndGlyphs" transform="rotate(0.03 458.43 415.25)">200</text>
<text x="503.38" y="415.25" font-size="10.3" fill="#4a4a4a" stroke="#4a4a4a" textLength="16.73" lengthAdjust="spacingAndGlyphs" transform="rotate(0.03 503.38 415.25)">400</text>
<text x="548.33" y="415.25" font-size="10.3" fill="#4a4a4a" stroke="#4a4a4a" textLength="16.73" lengthAdjust="spacingAndGlyphs" transform="rotate(0.03 548.33 415.25)">600</text>
<text x="593.28" y="415.25" font-size="10.3" fill="#4a4a4a" stroke="#4a4a4a" textLength="16.73" lengthAdjust="spacingAndGlyphs" transform="rotate(0.03 593.28 415.25)">800</text>
<text x="634.07" y="415.25" font-size="10.3" fill="#4a4a4a" stroke="#4a4a4a" textLength="25.06" lengthAdjust="spacingAndGlyphs" transform="rotate(0.03 634.07 415.25)">1,000</text>
<rect x="8.00" y="441.80" width="328.10" height="198.10" fill="#ffffff"/>
<line x1="74.50" y1="456.90" x2="74.50" y2="610.50" stroke="#d9d9d9" stroke-width="1"/>
<line x1="86.15" y1="456.90" x2="86.15" y2="610.50" stroke="#f2f2f2" stroke-width="1"/>
<line x1="97.80" y1="456.90" x2="97.80" y2="610.50" stroke="#f2f2f2" stroke-width="1"/>
<line x1="109.45" y1="456.90" x2="109.45" y2="610.50" stroke="#f2f2f2" stroke-width="1"/>
<line x1="121.10" y1="456.90" x2="121.10" y2="610.50" stroke="#f2f2f2" stroke-width="1"/>
<line x1="132.75" y1="456.90" x2="132.75" y2="610.50" stroke="#d9d9d9" stroke-width="1"/>
<line x1="144.40" y1="456.90" x2="144.40" y2="610.50" stroke="#f2f2f2" stroke-width="1"/>
<line x1="156.05" y1="456.90" x2="156.05" y2="610.50" stroke="#f2f2f2" stroke-width="1"/>
<line x1="167.70" y1="456.90" x2="167.70" y2="610.50" stroke="#f2f2f2" stroke-width="1"/>
<line x1="179.35" y1="456.90" x2="179.35" y2="610.50" stroke="#f2f2f2" stroke-width="1"/>
<line x1="191.00" y1="456.90" x2="191.00" y2="610.50" stroke="#d9d9d9" stroke-width="1"/>
<line x1="202.65" y1="456.90" x2="202.65" y2="610.50" stroke="#f2f2f2" stroke-width="1"/>
<line x1="214.30" y1="456.90" x2="214.30" y2="610.50" stroke="#f2f2f2" stroke-width="1"/>
<line x1="225.95" y1="456.90" x2="225.95" y2="610.50" stroke="#f2f2f2" stroke-width="1"/>
<line x1="237.60" y1="456.90" x2="237.60" y2="610.50" stroke="#f2f2f2" stroke-width="1"/>
<line x1="249.25" y1="456.90" x2="249.25" y2="610.50" stroke="#d9d9d9" stroke-width="1"/>
<line x1="260.90" y1="456.90" x2="260.90" y2="610.50" stroke="#f2f2f2" stroke-width="1"/>
<line x1="272.55" y1="456.90" x2="272.55" y2="610.50" stroke="#f2f2f2" stroke-width="1"/>
<line x1="284.20" y1="456.90" x2="284.20" y2="610.50" stroke="#f2f2f2" stroke-width="1"/>
<line x1="295.85" y1="456.90" x2="295.85" y2="610.50" stroke="#f2f2f2" stroke-width="1"/>
<line x1="307.50" y1="456.90" x2="307.50" y2="610.50" stroke="#d9d9d9" stroke-width="1"/>
<rect x="75.00" y="462.10" width="199.60" height="15.70" fill="#747474"/>
<text x="23.07" y="473.15" font-size="10.3" fill="#4a4a4a" stroke="#4a4a4a" textLength="9.79" lengthAdjust="spacingAndGlyphs" transform="rotate(0.03 23.07 473.15)">W</text>
<text x="35.34" y="473.15" font-size="10.3" fill="#4a4a4a" stroke="#4a4a4a" textLength="28.66" lengthAdjust="spacingAndGlyphs" transform="rotate(0.03 35.34 473.15)">Pacific</text>
<text x="285.30" y="473.65" font-size="10.3" fill="#4a4a4a" stroke="#4a4a4a" textLength="19.50" lengthAdjust="spacingAndGlyphs" transform="rotate(0.03 285.30 473.65)">68.6</text>
<rect x="75.00" y="487.60" width="198.72" height="15.70" fill="#747474"/>
<text x="31.97" y="498.65" font-size="10.3" fill="#4a4a4a" stroke="#4a4a4a" textLength="32.03" lengthAdjust="spacingAndGlyphs" transform="rotate(0.03 31.97 498.65)">Europe</text>
<text x="284.42" y="499.15" font-size="10.3" fill="#4a4a4a" stroke="#4a4a4a" textLength="19.50" lengthAdjust="spacingAndGlyphs" transform="rotate(0.03 284.42 499.15)">68.3</text>
<rect x="75.00" y="513.10" width="192.61" height="15.70" fill="#747474"/>
<text x="22.78" y="524.15" font-size="10.3" fill="#4a4a4a" stroke="#4a4a4a" textLength="41.22" lengthAdjust="spacingAndGlyphs" transform="rotate(0.03 22.78 524.15)">Americas</text>
<text x="278.31" y="524.65" font-size="10.3" fill="#4a4a4a" stroke="#4a4a4a" textLength="19.50" lengthAdjust="spacingAndGlyphs" transform="rotate(0.03 278.31 524.65)">66.2</text>
<rect x="75.00" y="538.60" width="178.92" height="15.70" fill="#747474"/>
<text x="32.64" y="549.65" font-size="10.3" fill="#4a4a4a" stroke="#4a4a4a" textLength="10.42" lengthAdjust="spacingAndGlyphs" transform="rotate(0.03 32.64 549.65)">SE</text>
<text x="45.54" y="549.65" font-size="10.3" fill="#4a4a4a" stroke="#4a4a4a" textLength="18.46" lengthAdjust="spacingAndGlyphs" transform="rotate(0.03 45.54 549.65)">Asia</text>
<text x="264.62" y="550.15" font-size="10.3" fill="#4a4a4a" stroke="#4a4a4a" textLength="19.50" lengthAdjust="spacingAndGlyphs" transform="rotate(0.03 264.62 550.15)">61.5</text>
<rect x="75.00" y="564.10" width="175.72" height="15.70" fill="#747474"/>
<text x="17.20" y="575.15" font-size="10.3" fill="#4a4a4a" stroke="#4a4a4a" textLength="5.37" lengthAdjust="spacingAndGlyphs" transform="rotate(0.03 17.20 575.15)">E</text>
<text x="25.05" y="575.15" font-size="10.3" fill="#4a4a4a" stroke="#4a4a4a" textLength="38.95" lengthAdjust="spacingAndGlyphs" transform="rotate(0.03 25.05 575.15)">Mediter.</text>
<text x="261.41" y="575.65" font-size="10.3" fill="#4a4a4a" stroke="#4a4a4a" textLength="19.50" lengthAdjust="spacingAndGlyphs" transform="rotate(0.03 261.41 575.65)">60.4</text>
<rect x="75.00" y="589.60" width="162.90" height="15.70" fill="#747474"/>
<text x="38.00" y="600.65" font-size="10.3" fill="#4a4a4a" stroke="#4a4a4a" textLength="26.00" lengthAdjust="spacingAndGlyphs" transform="rotate(0.03 38.00 600.65)">Africa</text>
<text x="248.60" y="601.15" font-size="10.3" fill="#4a4a4a" stroke="#4a4a4a" textLength="19.50" lengthAdjust="spacingAndGlyphs" transform="rotate(0.03 248.60 601.15)">56.0</text>
<text x="70.32" y="627.40" font-size="10.3" fill="#4a4a4a" stroke="#4a4a4a" textLength="3.37" lengthAdjust="spacingAndGlyphs" transform="rotate(0.03 70.32 627.40)">-</text>
<text x="123.00" y="627.40" font-size="10.3" fill="#4a4a4a" stroke="#4a4a4a" textLength="19.50" lengthAdjust="spacingAndGlyphs" transform="rotate(0.03 123.00 627.40)">20.0</text>
<text x="181.25" y="627.40" font-size="10.3" fill="#4a4a4a" stroke="#4a4a4a" textLength="19.50" lengthAdjust="spacingAndGlyphs" transform="rotate(0.03 181.25 627.40)">40.0</text>
<text x="239.50" y="627.40" font-size="10.3" fill="#4a4a4a" stroke="#4a4a4a" textLength="19.50" lengthAdjust="spacingAndGlyphs" transform="rotate(0.03 239.50 627.40)">60.0</text>
<text x="297.75" y="627.40" font-size="10.3" fill="#4a4a4a" stroke="#4a4a4a" textLength="19.50" lengthAdjust="spacingAndGlyphs" transform="rotate(0.03 297.75 627.40)">80.0</text>
<rect x="349.70" y="441.80" width="327.50" height="198.10" fill="#ffffff"/>
<line x1="415.60" y1="456.90" x2="415.60" y2="610.50" stroke="#d9d9d9" stroke-width="1"/>
<line x1="424.83" y1="456.90" x2="424.83" y2="610.50" stroke="#f2f2f2" stroke-width="1"/>
<line x1="434.06" y1="456.90" x2="434.06" y2="610.50" stroke="#f2f2f2" stroke-width="1"/>
<line x1="443.29" y1="456.90" x2="443.29" y2="610.50" stroke="#f2f2f2" stroke-width="1"/>
<line x1="452.52" y1="456.90" x2="452.52" y2="610.50" stroke="#f2f2f2" stroke-width="1"/>
<line x1="461.75" y1="456.90" x2="461.75" y2="610.50" stroke="#d9d9d9" stroke-width="1"/>
<line x1="470.98" y1="456.90" x2="470.98" y2="610.50" stroke="#f2f2f2" stroke-width="1"/>
<line x1="480.21" y1="456.90" x2="480.21" y2="610.50" stroke="#f2f2f2" stroke-width="1"/>
<line x1="489.44" y1="456.90" x2="489.44" y2="610.50" stroke="#f2f2f2" stroke-width="1"/>
<line x1="498.67" y1="456.90" x2="498.67" y2="610.50" stroke="#f2f2f2" stroke-width="1"/>
<line x1="507.90" y1="456.90" x2="507.90" y2="610.50" stroke="#d9d9d9" stroke-width="1"/>
<line x1="517.13" y1="456.90" x2="517.13" y2="610.50" stroke="#f2f2f2" stroke-width="1"/>
<line x1="526.36" y1="456.90" x2="526.36" y2="610.50" stroke="#f2f2f2" stroke-width="1"/>
<line x1="535.59" y1="456.90" x2="535.59" y2="610.50" stroke="#f2f2f2" stroke-width="1"/>
<line x1="544.82" y1="456.90" x2="544.82" y2="610.50" stroke="#f2f2f2" stroke-width="1"/>
<line x1="554.05" y1="456.90" x2="554.05" y2="610.50" stroke="#d9d9d9" stroke-width="1"/>
<line x1="563.28" y1="456.90" x2="563.28" y2="610.50" stroke="#f2f2f2" stroke-width="1"/>
<line x1="572.51" y1="456.90" x2="572.51" y2="610.50" stroke="#f2f2f2" stroke-width="1"/>
<line x1="581.74" y1="456.90" x2="581.74" y2="610.50" stroke="#f2f2f2" stroke-width="1"/>
<line x1="590.97" y1="456.90" x2="590.97" y2="610.50" stroke="#f2f2f2" stroke-width="1"/>
<line x1="600.20" y1="456.90" x2="600.20" y2="610.50" stroke="#d9d9d9" stroke-width="1"/>
<line x1="609.43" y1="456.90" x2="609.43" y2="610.50" stroke="#f2f2f2" stroke-width="1"/>
<line x1="618.66" y1="456.90" x2="618.66" y2="610.50" stroke="#f2f2f2" stroke-width="1"/>
<line x1="627.89" y1="456.90" x2="627.89" y2="610.50" stroke="#f2f2f2" stroke-width="1"/>
<line x1="637.12" y1="456.90" x2="637.12" y2="610.50" stroke="#f2f2f2" stroke-width="1"/>
<line x1="646.35" y1="456.90" x2="646.35" y2="610.50" stroke="#d9d9d9" stroke-width="1"/>
<rect x="416.10" y="462.10" width="175.86" height="15.70" fill="#747474"/>
<text x="373.67" y="473.15" font-size="10.3" fill="#4a4a4a" stroke="#4a4a4a" textLength="32.03" lengthAdjust="spacingAndGlyphs" transform="rotate(0.03 373.67 473.15)">Europe</text>
<text x="602.16" y="473.65" font-size="10.3" fill="#4a4a4a" stroke="#4a4a4a" textLength="19.50" lengthAdjust="spacingAndGlyphs" transform="rotate(0.03 602.16 473.65)">7.63</text>
<rect x="416.10" y="487.60" width="168.71" height="15.70" fill="#747474"/>
<text x="364.77" y="498.65" font-size="10.3" fill="#4a4a4a" stroke="#4a4a4a" textLength="9.79" lengthAdjust="spacingAndGlyphs" transform="rotate(0.03 364.77 498.65)">W</text>
<text x="377.05" y="498.65" font-size="10.3" fill="#4a4a4a" stroke="#4a4a4a" textLength="28.66" lengthAdjust="spacingAndGlyphs" transform="rotate(0.03 377.05 498.65)">Pacific</text>
<text x="595.01" y="499.15" font-size="10.3" fill="#4a4a4a" stroke="#4a4a4a" textLength="19.50" lengthAdjust="spacingAndGlyphs" transform="rotate(0.03 595.01 499.15)">7.32</text>
<rect x="416.10" y="513.10" width="165.94" height="15.70" fill="#747474"/>
<text x="364.48" y="524.15" font-size="10.3" fill="#4a4a4a" stroke="#4a4a4a" textLength="41.22" lengthAdjust="spacingAndGlyphs" transform="rotate(0.03 364.48 524.15)">Americas</text>
<text x="592.24" y="524.65" font-size="10.3" fill="#4a4a4a" stroke="#4a4a4a" textLength="19.50" lengthAdjust="spacingAndGlyphs" transform="rotate(0.03 592.24 524.65)">7.20</text>
<rect x="416.10" y="538.60" width="127.17" height="15.70" fill="#747474"/>
<text x="358.89" y="549.65" font-size="10.3" fill="#4a4a4a" stroke="#4a4a4a" textLength="5.37" lengthAdjust="spacingAndGlyphs" transform="rotate(0.03 358.89 549.65)">E</text>
<text x="366.75" y="549.65" font-size="10.3" fill="#4a4a4a" stroke="#4a4a4a" textLength="38.95" lengthAdjust="spacingAndGlyphs" transform="rotate(0.03 366.75 549.65)">Mediter.</text>
<text x="553.47" y="550.15" font-size="10.3" fill="#4a4a4a" stroke="#4a4a4a" textLength="19.50" lengthAdjust="spacingAndGlyphs" transform="rotate(0.03 553.47 550.15)">5.52</text>
<rect x="416.10" y="564.10" width="122.79" height="15.70" fill="#747474"/>
<text x="379.70" y="575.15" font-size="10.3" fill="#4a4a4a" stroke="#4a4a4a" textLength="26.00" lengthAdjust="spacingAndGlyphs" transform="rotate(0.03 379.70 575.15)">Africa</text>
<text x="549.09" y="575.65" font-size="10.3" fill="#4a4a4a" stroke="#4a4a4a" textLength="19.50" lengthAdjust="spacingAndGlyphs" transform="rotate(0.03 549.09 575.65)">5.33</text>
<rect x="416.10" y="589.60" width="101.79" height="15.70" fill="#747474"/>
<text x="374.34" y="600.65" font-size="10.3" fill="#4a4a4a" stroke="#4a4a4a" textLength="10.42" lengthAdjust="spacingAndGlyphs" transform="rotate(0.03 374.34 600.65)">SE</text>
<text x="387.24" y="600.65" font-size="10.3" fill="#4a4a4a" stroke="#4a4a4a" textLength="18.46" lengthAdjust="spacingAndGlyphs" transform="rotate(0.03 387.24 600.65)">Asia</text>
<text x="528.09" y="601.15" font-size="10.3" fill="#4a4a4a" stroke="#4a4a4a" textLength="19.50" lengthAdjust="spacingAndGlyphs" transform="rotate(0.03 528.09 601.15)">4.42</text>
<text x="411.42" y="627.40" font-size="10.3" fill="#4a4a4a" stroke="#4a4a4a" textLength="3.37" lengthAdjust="spacingAndGlyphs" transform="rotate(0.03 411.42 627.40)">-</text>
<text x="452.00" y="627.40" font-size="10.3" fill="#4a4a4a" stroke="#4a4a4a" textLength="19.50" lengthAdjust="spacingAndGlyphs" transform="rotate(0.03 452.00 627.40)">2.00</text>
<text x="498.15" y="627.40" font-size="10.3" fill="#4a4a4a" stroke="#4a4a4a" textLength="19.50" lengthAdjust="spacingAndGlyphs" transform="rotate(0.03 498.15 627.40)">4.00</text>
<text x="544.30" y="627.40" font-size="10.3" fill="#4a4a4a" stroke="#4a4a4a" textLength="19.50" lengthAdjust="spacingAndGlyphs" transform="rotate(0.03 544.30 627.40)">6.00</text>
<text x="590.45" y="627.40" font-size="10.3" fill="#4a4a4a" stroke="#4a4a4a" textLength="19.50" lengthAdjust="spacingAndGlyphs" transform="rotate(0.03 590.45 627.40)">8.00</text>
<text x="633.81" y="627.40" font-size="10.3" fill="#4a4a4a" stroke="#4a4a4a" textLength="25.08" lengthAdjust="spacingAndGlyphs" transform="rotate(0.03 633.81 627.40)">10.00</text>
<text x="9.00" y="226.20" font-size="11.7" fill="#000000" stroke="#000000" textLength="9.04" lengthAdjust="spacingAndGlyphs" transform="rotate(0.03 9.00 226.20)">a.</text>
<text x="20.83" y="226.20" font-size="11.7" fill="#000000" stroke="#000000" textLength="46.09" lengthAdjust="spacingAndGlyphs" transform="rotate(0.03 20.83 226.20)">Refugees</text>
<text x="69.71" y="226.20" font-size="11.7" fill="#000000" stroke="#000000" textLength="9.32" lengthAdjust="spacingAndGlyphs" transform="rotate(0.03 69.71 226.20)">in</text>
<text x="81.83" y="226.20" font-size="11.7" fill="#000000" stroke="#000000" textLength="33.46" lengthAdjust="spacingAndGlyphs" transform="rotate(0.03 81.83 226.20)">top-10</text>
<text x="118.08" y="226.20" font-size="11.7" fill="#000000" stroke="#000000" textLength="46.99" lengthAdjust="spacingAndGlyphs" transform="rotate(0.03 118.08 226.20)">countries</text>
<text x="167.86" y="226.20" font-size="11.7" fill="#000000" stroke="#000000" textLength="47.30" lengthAdjust="spacingAndGlyphs" transform="rotate(0.03 167.86 226.20)">(number)</text>
<text x="350.60" y="226.20" font-size="11.7" fill="#000000" stroke="#000000" textLength="9.60" lengthAdjust="spacingAndGlyphs" transform="rotate(0.03 350.60 226.20)">b.</text>
<text x="363.00" y="226.20" font-size="11.7" fill="#000000" stroke="#000000" textLength="21.94" lengthAdjust="spacingAndGlyphs" transform="rotate(0.03 363.00 226.20)">IDPs</text>
<text x="387.73" y="226.20" font-size="11.7" fill="#000000" stroke="#000000" textLength="40.03" lengthAdjust="spacingAndGlyphs" transform="rotate(0.03 387.73 226.20)">assisted</text>
<text x="430.56" y="226.20" font-size="11.7" fill="#000000" stroke="#000000" textLength="12.09" lengthAdjust="spacingAndGlyphs" transform="rotate(0.03 430.56 226.20)">by</text>
<text x="445.44" y="226.20" font-size="11.7" fill="#000000" stroke="#000000" textLength="36.92" lengthAdjust="spacingAndGlyphs" transform="rotate(0.03 445.44 226.20)">UNHCR</text>
<text x="485.15" y="226.20" font-size="11.7" fill="#000000" stroke="#000000" textLength="9.32" lengthAdjust="spacingAndGlyphs" transform="rotate(0.03 485.15 226.20)">in</text>
<text x="497.26" y="226.20" font-size="11.7" fill="#000000" stroke="#000000" textLength="33.46" lengthAdjust="spacingAndGlyphs" transform="rotate(0.03 497.26 226.20)">top-10</text>
<text x="533.52" y="226.20" font-size="11.7" fill="#000000" stroke="#000000" textLength="46.99" lengthAdjust="spacingAndGlyphs" transform="rotate(0.03 533.52 226.20)">countries</text>
<text x="583.30" y="226.20" font-size="11.7" fill="#000000" stroke="#000000" textLength="47.30" lengthAdjust="spacingAndGlyphs" transform="rotate(0.03 583.30 226.20)">(number)</text>
<text x="9.00" y="439.00" font-size="11.7" fill="#000000" stroke="#000000" textLength="8.34" lengthAdjust="spacingAndGlyphs" transform="rotate(0.03 9.00 439.00)">c.</text>
<text x="20.14" y="439.00" font-size="11.7" fill="#000000" stroke="#000000" textLength="35.14" lengthAdjust="spacingAndGlyphs" transform="rotate(0.03 20.14 439.00)">Deaths</text>
<text x="58.07" y="439.00" font-size="11.7" fill="#000000" stroke="#000000" textLength="9.32" lengthAdjust="spacingAndGlyphs" transform="rotate(0.03 58.07 439.00)">in</text>
<text x="70.18" y="439.00" font-size="11.7" fill="#000000" stroke="#000000" textLength="32.75" lengthAdjust="spacingAndGlyphs" transform="rotate(0.03 70.18 439.00)">armed</text>
<text x="105.73" y="439.00" font-size="11.7" fill="#000000" stroke="#000000" textLength="41.86" lengthAdjust="spacingAndGlyphs" transform="rotate(0.03 105.73 439.00)">conflicts</text>
<text x="150.39" y="439.00" font-size="11.7" fill="#000000" stroke="#000000" textLength="50.42" lengthAdjust="spacingAndGlyphs" transform="rotate(0.03 150.39 439.00)">(number).</text>
<text x="203.60" y="439.00" font-size="11.7" fill="#000000" stroke="#000000" textLength="32.38" lengthAdjust="spacingAndGlyphs" transform="rotate(0.03 203.60 439.00)">Global</text>
<text x="238.77" y="439.00" font-size="11.7" fill="#000000" stroke="#000000" textLength="43.80" lengthAdjust="spacingAndGlyphs" transform="rotate(0.03 238.77 439.00)">236,992.</text>
<text x="350.60" y="439.00" font-size="11.7" fill="#000000" stroke="#000000" textLength="9.60" lengthAdjust="spacingAndGlyphs" transform="rotate(0.03 350.60 439.00)">d.</text>
<text x="363.00" y="439.00" font-size="11.7" fill="#000000" stroke="#000000" textLength="46.09" lengthAdjust="spacingAndGlyphs" transform="rotate(0.03 363.00 439.00)">Refugees</text>
<text x="411.88" y="439.00" font-size="11.7" fill="#000000" stroke="#000000" textLength="20.70" lengthAdjust="spacingAndGlyphs" transform="rotate(0.03 411.88 439.00)">(per</text>
<text x="435.38" y="439.00" font-size="11.7" fill="#000000" stroke="#000000" textLength="40.69" lengthAdjust="spacingAndGlyphs" transform="rotate(0.03 435.38 439.00)">100,000</text>
<text x="478.86" y="439.00" font-size="11.7" fill="#000000" stroke="#000000" textLength="61.57" lengthAdjust="spacingAndGlyphs" transform="rotate(0.03 478.86 439.00)">population).</text>
<text x="543.22" y="439.00" font-size="11.7" fill="#000000" stroke="#000000" textLength="32.38" lengthAdjust="spacingAndGlyphs" transform="rotate(0.03 543.22 439.00)">Global</text>
<text x="578.39" y="439.00" font-size="11.7" fill="#000000" stroke="#000000" textLength="18.80" lengthAdjust="spacingAndGlyphs" transform="rotate(0.03 578.39 439.00)">398</text>
<text x="9.00" y="651.70" font-size="11.7" fill="#000000" stroke="#000000" textLength="9.27" lengthAdjust="spacingAndGlyphs" transform="rotate(0.03 9.00 651.70)">e.</text>
<text x="21.06" y="651.70" font-size="11.7" fill="#000000" stroke="#000000" textLength="38.84" lengthAdjust="spacingAndGlyphs" transform="rotate(0.03 21.06 651.70)">Healthy</text>
<text x="62.69" y="651.70" font-size="11.7" fill="#000000" stroke="#000000" textLength="15.59" lengthAdjust="spacingAndGlyphs" transform="rotate(0.03 62.69 651.70)">life</text>
<text x="81.07" y="651.70" font-size="11.7" fill="#000000" stroke="#000000" textLength="56.76" lengthAdjust="spacingAndGlyphs" transform="rotate(0.03 81.07 651.70)">expectancy</text>
<text x="140.62" y="651.70" font-size="11.7" fill="#000000" stroke="#000000" textLength="10.06" lengthAdjust="spacingAndGlyphs" transform="rotate(0.03 140.62 651.70)">at</text>
<text x="153.48" y="651.70" font-size="11.7" fill="#000000" stroke="#000000" textLength="24.26" lengthAdjust="spacingAndGlyphs" transform="rotate(0.03 153.48 651.70)">birth</text>
<text x="180.53" y="651.70" font-size="11.7" fill="#000000" stroke="#000000" textLength="37.43" lengthAdjust="spacingAndGlyphs" transform="rotate(0.03 180.53 651.70)">(years).</text>
<text x="220.75" y="651.70" font-size="11.7" fill="#000000" stroke="#000000" textLength="35.70" lengthAdjust="spacingAndGlyphs" transform="rotate(0.03 220.75 651.70)">Global:</text>
<text x="259.24" y="651.70" font-size="11.7" fill="#000000" stroke="#000000" textLength="21.91" lengthAdjust="spacingAndGlyphs" transform="rotate(0.03 259.24 651.70)">63.7</text>
<text x="350.60" y="651.70" font-size="11.7" fill="#000000" stroke="#000000" textLength="6.88" lengthAdjust="spacingAndGlyphs" transform="rotate(0.03 350.60 651.70)">f.</text>
<text x="360.28" y="651.70" font-size="11.7" fill="#000000" stroke="#000000" textLength="38.49" lengthAdjust="spacingAndGlyphs" transform="rotate(0.03 360.28 651.70)">Current</text>
<text x="401.56" y="651.70" font-size="11.7" fill="#000000" stroke="#000000" textLength="32.02" lengthAdjust="spacingAndGlyphs" transform="rotate(0.03 401.56 651.70)">health</text>
<text x="436.38" y="651.70" font-size="11.7" fill="#000000" stroke="#000000" textLength="61.06" lengthAdjust="spacingAndGlyphs" transform="rotate(0.03 436.38 651.70)">expenditure</text>
<text x="500.23" y="651.70" font-size="11.7" fill="#000000" stroke="#000000" textLength="10.75" lengthAdjust="spacingAndGlyphs" transform="rotate(0.03 500.23 651.70)">as</text>
<text x="513.78" y="651.70" font-size="11.7" fill="#000000" stroke="#000000" textLength="8.84" lengthAdjust="spacingAndGlyphs" transform="rotate(0.03 513.78 651.70)">%</text>
<text x="525.41" y="651.70" font-size="11.7" fill="#000000" stroke="#000000" textLength="10.28" lengthAdjust="spacingAndGlyphs" transform="rotate(0.03 525.41 651.70)">of</text>
<text x="538.48" y="651.70" font-size="11.7" fill="#000000" stroke="#000000" textLength="21.79" lengthAdjust="spacingAndGlyphs" transform="rotate(0.03 538.48 651.70)">GDP</text>
</svg>
</body></html>
